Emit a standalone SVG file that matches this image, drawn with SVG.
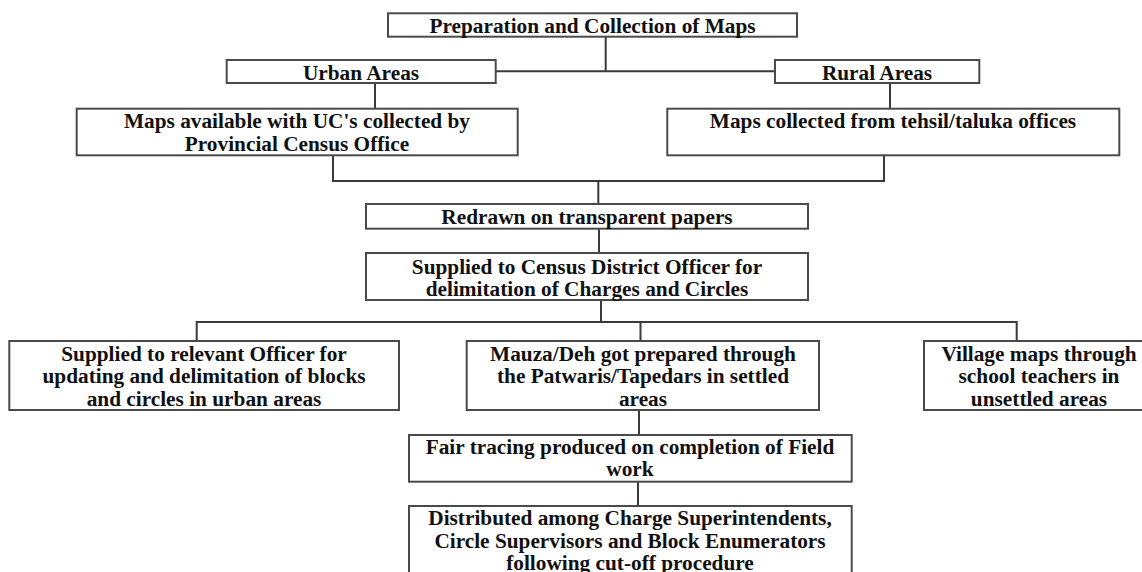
<svg xmlns="http://www.w3.org/2000/svg" width="1142" height="572" viewBox="0 0 1142 572">
<style>
.box{fill:#fff;stroke:#4a4a4a;stroke-width:2}
.ln{fill:none;stroke:#3a3a3a;stroke-width:2}
text{font-family:"Liberation Serif","Times New Roman",serif;font-weight:bold;font-size:21.3px;fill:#111;text-anchor:middle}
</style>
<rect width="1142" height="572" fill="#fff"/>
<g id="connectors">
<path class="ln" d="M605.7 36.7V71.3M496 71.3H775"/>
<path class="ln" d="M375 83V108.7M890 83V108.7"/>
<path class="ln" d="M333 155.3V181H884V155.3M598.3 181V204"/>
<path class="ln" d="M599 228.7V253M601 300V322M196.7 341V322H1016.7V341M640.5 322V341"/>
<path class="ln" d="M639 410V435M638 481.7V506"/>
</g>
<g id="n1"><rect class="box" x="388" y="13.3" width="409" height="23.4"/><text x="592.5" y="32.5">Preparation and Collection of Maps</text></g>
<g id="n2"><rect class="box" x="226.7" y="60" width="269" height="23"/><text x="361" y="79.8">Urban Areas</text></g>
<g id="n3"><rect class="box" x="775" y="60" width="204.3" height="23"/><text x="877" y="79.8">Rural Areas</text></g>
<g id="n4"><rect class="box" x="76.7" y="108.7" width="441" height="46.6"/><text x="297" y="128.3">Maps available with UC's collected by</text><text x="297" y="150.7">Provincial Census Office</text></g>
<g id="n5"><rect class="box" x="667.3" y="108.7" width="452" height="46.6"/><text x="893" y="128.3">Maps collected from tehsil/taluka offices</text></g>
<g id="n6"><rect class="box" x="366" y="204" width="442" height="24.7"/><text x="587" y="224">Redrawn on transparent papers</text></g>
<g id="n7"><rect class="box" x="366" y="253" width="442" height="47"/><text x="587" y="273.5">Supplied to Census District Officer for</text><text x="587" y="296">delimitation of Charges and Circles</text></g>
<g id="n8"><rect class="box" x="9.3" y="341" width="389.7" height="69"/><text x="204" y="360.5">Supplied to relevant Officer for</text><text x="204" y="383">updating and delimitation of blocks</text><text x="204" y="405.5">and circles in urban areas</text></g>
<g id="n9"><rect class="box" x="466.7" y="341" width="352.3" height="69"/><text x="643" y="360.5">Mauza/Deh got prepared through</text><text x="643" y="383">the Patwaris/Tapedars in settled</text><text x="643" y="405.5">areas</text></g>
<g id="n10"><rect class="box" x="924" y="341" width="230" height="69"/><text x="1039" y="360.5">Village maps through</text><text x="1039" y="383">school teachers in</text><text x="1039" y="405.5">unsettled areas</text></g>
<g id="n11"><rect class="box" x="409" y="435" width="442.7" height="46.7"/><text x="630" y="453.5">Fair tracing produced on completion of Field</text><text x="630" y="476">work</text></g>
<g id="n12"><rect class="box" x="409" y="506" width="442.7" height="90"/><text x="630" y="525">Distributed among Charge Superintendents,</text><text x="630" y="547.5">Circle Supervisors and Block Enumerators</text><text x="630" y="570">following cut-off procedure</text></g>
</svg>
